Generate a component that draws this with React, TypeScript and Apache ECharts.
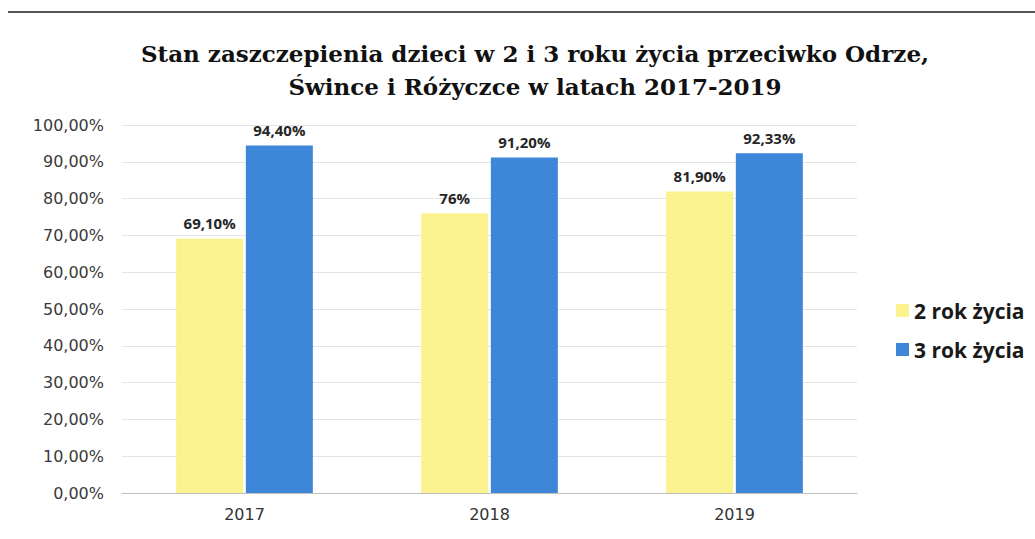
import React, { useEffect, useRef } from "react";
import * as echarts from "echarts";

const titleLines = [
  "Stan zaszczepienia dzieci w 2 i 3 roku życia przeciwko Odrze,",
  "Śwince i Różyczce w latach 2017-2019",
];
const years = ["2017", "2018", "2019"];
const seriesNames = ["2 rok życia", "3 rok życia"];
const age2 = [69.1, 76, 81.9];
const age3 = [94.4, 91.2, 92.33];
const age2Labels = ["69,10%", "76%", "81,90%"];
const age3Labels = ["94,40%", "91,20%", "92,33%"];

const fmtAxis = (v: number) => v.toFixed(2).replace(".", ",") + "%";

export default function App() {
  const ref = useRef<HTMLDivElement>(null);
  useEffect(() => {
    if (!ref.current) return;
    const chart = echarts.init(ref.current, undefined, { renderer: "svg" });
    const labelStyle = {
      show: true,
      position: "top" as const,
      distance: 8,
      fontFamily: "Open Sans",
      fontWeight: "bold" as const,
      fontSize: 15,
      color: "#262626",
    };
    chart.setOption({
      animation: false,
      backgroundColor: "#ffffff",
      title: {
        text: titleLines.join("\n"),
        left: 530,
        textAlign: "center",
        top: 32,
        textStyle: {
          fontFamily: "DejaVu Serif",
          fontWeight: "bold",
          fontSize: 23,
          lineHeight: 33,
          color: "#111111",
        },
      },
      graphic: [
        {
          type: "line",
          shape: { x1: 8, y1: 12, x2: 1035, y2: 12 },
          style: { stroke: "#555555", lineWidth: 2 },
        },
      ],
      legend: {
        orient: "vertical",
        left: 891,
        top: 295,
        itemWidth: 13,
        itemHeight: 13,
        itemGap: 18,
        icon: "rect",
        textStyle: {
          fontFamily: "Open Sans",
          fontWeight: "bold",
          fontSize: 21,
          color: "#1a1a1a",
        },
        data: seriesNames,
      },
      grid: { left: 122, right: 178, top: 125, bottom: 46 },
      xAxis: {
        type: "category",
        data: years,
        axisTick: { show: false },
        axisLine: { lineStyle: { color: "#bfbfbf" } },
        axisLabel: {
          fontFamily: "DejaVu Sans",
          fontSize: 16,
          color: "#333333",
          margin: 13,
        },
      },
      yAxis: {
        type: "value",
        min: 0,
        max: 100,
        interval: 10,
        axisLine: { show: false },
        axisTick: { show: false },
        splitLine: { lineStyle: { color: "#e4e4e4", width: 1 } },
        axisLabel: {
          formatter: fmtAxis,
          fontFamily: "DejaVu Sans",
          fontSize: 16,
          color: "#3a3a3a",
          margin: 18,
        },
      },
      series: [
        {
          name: seriesNames[0],
          type: "bar",
          data: age2,
          barWidth: 67,
          barGap: "4%",
          itemStyle: { color: "#fbf38f" },
          label: { ...labelStyle, formatter: (p: any) => age2Labels[p.dataIndex] },
        },
        {
          name: seriesNames[1],
          type: "bar",
          data: age3,
          barWidth: 67,
          itemStyle: { color: "#3e86d8" },
          label: { ...labelStyle, formatter: (p: any) => age3Labels[p.dataIndex] },
        },
      ],
    });
    return () => chart.dispose();
  }, []);
  return <div ref={ref} style={{ width: 1035, height: 539, position: "absolute", left: 0, top: 0 }} />;
}
